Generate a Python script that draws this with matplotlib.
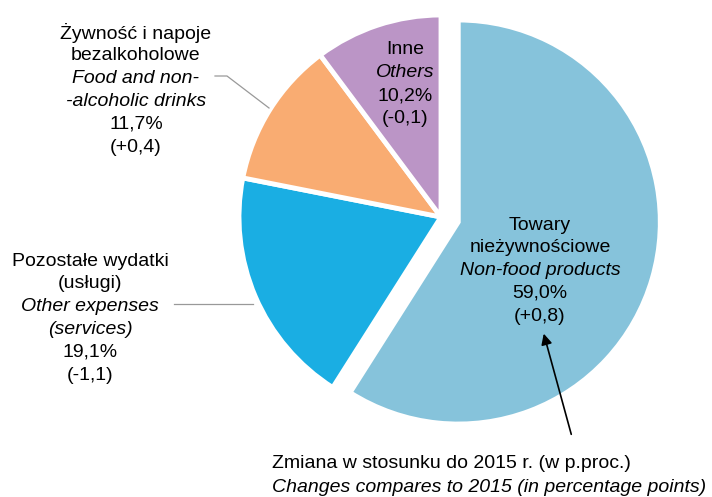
import matplotlib
matplotlib.use("Agg")
import matplotlib.pyplot as plt

plt.rcParams['font.family'] = ['Liberation Sans', 'DejaVu Sans']

# Data (clockwise from 12 o'clock)
categories_pl = ["Towary\nnieżywnościowe", "Pozostałe wydatki\n(usługi)",
                 "Żywność i napoje\nbezalkoholowe", "Inne"]
categories_en = ["Non-food products", "Other expenses\n(services)",
                 "Food and non-\n-alcoholic drinks", "Others"]
shares = [59.0, 19.1, 11.7, 10.2]
changes = ["+0,8", "-1,1", "+0,4", "-0,1"]
colors = ["#86C3DB", "#1AAEE3", "#F9AC72", "#BB95C6"]

W, H = 712, 497
fig = plt.figure(figsize=(W / 100, H / 100), dpi=100)
ax = fig.add_axes([0, 0, 1, 1])

def Y(py):
    return H - py

explode = [18, 0, 0, 0]
ax.pie(shares, colors=colors, startangle=90, counterclock=False,
       radius=202, center=(441, Y(217)), explode=explode,
       wedgeprops=dict(edgecolor='white', linewidth=3.5), frame=True)
ax.set_xlim(0, W)
ax.set_ylim(0, H)
ax.set_aspect('equal')
ax.axis('off')

fs = 14
lh = 22.8

def block(cx, top_y, pl, en, share, chg):
    lines = []
    for l in pl.split("\n"):
        lines.append((l, 'normal'))
    for l in en.split("\n"):
        lines.append((l, 'italic'))
    lines.append((f"{share:.1f}%".replace('.', ','), 'normal'))
    lines.append((f"({chg})", 'normal'))
    for i, (t, st) in enumerate(lines):
        ax.text(cx, Y(top_y + i * lh), t, ha='center', va='center',
                fontsize=fs, style=st, color='black')

block(540, 225, categories_pl[0], categories_en[0], shares[0], changes[0])
block(90, 261, categories_pl[1], categories_en[1], shares[1], changes[1])
block(136, 33, categories_pl[2], categories_en[2], shares[2], changes[2])
block(405, 50, categories_pl[3], categories_en[3], shares[3], changes[3])

# leader lines
ax.plot([215, 227, 269], [Y(76), Y(76), Y(108)], color='#999999', lw=0.9)
ax.plot([174, 253], [Y(304), Y(304)], color='#999999', lw=0.9)

# arrow
ax.annotate("", xy=(543, Y(331)), xytext=(572, Y(437)),
            arrowprops=dict(arrowstyle='-|>', color='black', lw=1.2,
                            mutation_scale=16))

ax.text(272, Y(464), "Zmiana w stosunku do 2015 r. (w p.proc.)",
        ha='left', va='center', fontsize=fs)
ax.text(272, Y(487), "Changes compares to 2015 (in percentage points)",
        ha='left', va='center', fontsize=fs, style='italic')

fig.savefig("out.png", dpi=100)
